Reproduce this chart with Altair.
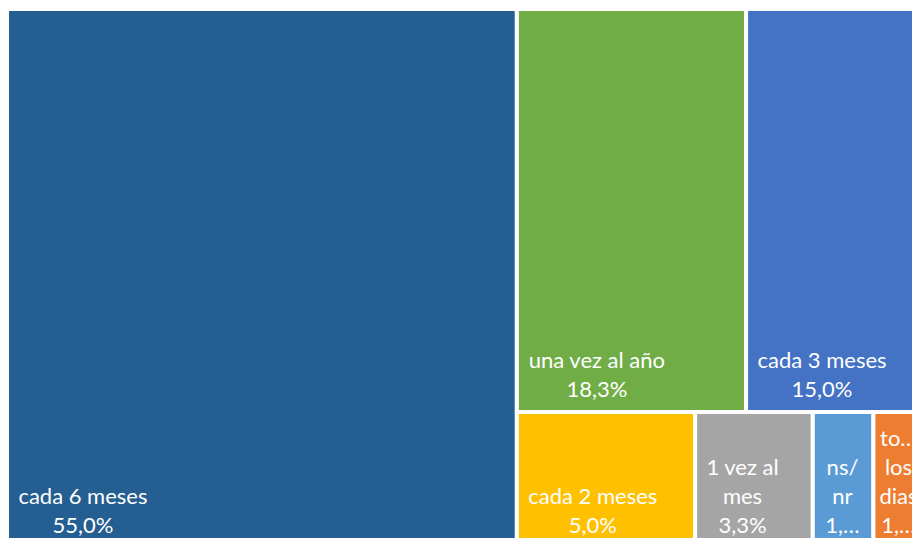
import altair as alt
import pandas as pd

# ---- data ----
categories = ["cada 6 meses", "una vez al año", "cada 3 meses", "cada 2 meses",
              "1 vez al mes", "ns/nr", "todos los dias"]
values = [55.0, 18.3, 15.0, 5.0, 3.3, 1.7, 1.7]
label_lines = [
    ["cada 6 meses", "55,0%"],
    ["una vez al año", "18,3%"],
    ["cada 3 meses", "15,0%"],
    ["cada 2 meses", "5,0%"],
    ["1 vez al", "mes", "3,3%"],
    ["ns/", "nr", "1,…"],
    ["to…", "los", "dias", "1,…"],
]
groups = [0, 1, 1, 2, 2, 2, 2]   # 0 = left column, 1.. = rows of the remaining block
colors = ["#255E91", "#70AD47", "#4472C4", "#FFC000", "#A5A5A5", "#5B9BD5", "#ED7D31"]

# ---- layout constants ----
TW, TH = 927.0, 544.6          # treemap size (the reference is cropped at right/bottom)
GAP = 4                        # white border between tiles
PAD_X, PAD_B = 10, 13          # label padding from tile left / bottom
MIN_PAD = 4                    # smallest left padding when a label must be pulled in
FS, LH = 22, 29                # font size, line height
REF_FS = 23.5                  # reference (Calibri) font size used for centring the label block
W, H = 904, 530                # plot size (page is 920x546 with 8px margin)
X_OFF, Y_OFF = 1, -1           # treemap origin offset relative to the plot corner

calibri = {"a": .479, "c": .423, "d": .525, "e": .498, "i": .229, "l": .229, "m": .799,
           "n": .525, "o": .527, "r": .349, "s": .391, "t": .335, "u": .525, "v": .452,
           "y": .453, "z": .395, "ñ": .525, ",": .25, "%": .715, "/": .386, "…": .75, " ": .226}


def text_w(s):
    return sum(calibri.get(ch, .507) for ch in s) * REF_FS


# ---- treemap layout computed from the values ----
total = sum(values)
col = [i for i, g in enumerate(groups) if g == 0]
col_w = TW * sum(values[i] for i in col) / total
rects = {}
yy = 0.0
for i in col:
    h = TH * values[i] / sum(values[j] for j in col)
    rects[i] = (0.0, col_w, yy, yy + h)
    yy += h
rest = [i for i, g in enumerate(groups) if g != 0]
rest_sum = sum(values[i] for i in rest)
yy = 0.0
for g in sorted(set(groups) - {0}):
    row = [i for i in rest if groups[i] == g]
    row_sum = sum(values[i] for i in row)
    h = TH * row_sum / rest_sum
    xx = col_w
    for i in row:
        w = (TW - col_w) * values[i] / row_sum
        rects[i] = (xx, xx + w, yy, yy + h)
        xx += w
    yy += h

x_limit = X_OFF + W            # right edge of the visible area
y_limit = Y_OFF + H - 5        # keep the last label line inside the visible area
rows = []
for i, cat in enumerate(categories):
    x0, x1, y0, y1 = rects[i]
    lines = label_lines[i]
    bw = max(text_w(s) for s in lines)
    cx = x0 + GAP / 2 + PAD_X + bw / 2
    if cx + bw / 2 > x_limit:
        cx = max(x_limit - bw / 2, x0 + GAP / 2 + MIN_PAD + bw / 2)
    last = min(y1 - GAP / 2 - PAD_B, y_limit)
    rows.append({
        "cat": cat, "value": values[i], "x0": x0, "x1": x1, "y0": y0, "y1": y1,
        "label": "\n".join(lines),
        "tx": cx,
        "ty": last - (len(lines) - 1) * LH,
    })
df = pd.DataFrame(rows)

xs = alt.Scale(domain=[X_OFF, X_OFF + W], nice=False, zero=False)
ys = alt.Scale(domain=[Y_OFF, Y_OFF + H], nice=False, zero=False, reverse=True)

base = alt.Chart(df)
tiles = base.mark_rect(stroke="white", strokeWidth=GAP, clip=True).encode(
    x=alt.X("x0:Q", scale=xs, axis=None),
    x2="x1:Q",
    y=alt.Y("y0:Q", scale=ys, axis=None),
    y2="y1:Q",
    color=alt.Color("cat:N", scale=alt.Scale(domain=categories, range=colors), legend=None),
)
labels = base.mark_text(color="white", font="Lato", fontSize=FS, lineHeight=LH,
                        lineBreak="\n", align="center", baseline="alphabetic",
                        clip=True).encode(
    x=alt.X("tx:Q", scale=xs, axis=None),
    y=alt.Y("ty:Q", scale=ys, axis=None),
    text="label:N",
)

chart = (tiles + labels).properties(
    width=W, height=H, padding=0, autosize=alt.AutoSizeParams(type="none"),
).configure_view(stroke=None)

chart.save("out.html", embed_options={"renderer": "svg", "actions": False})
